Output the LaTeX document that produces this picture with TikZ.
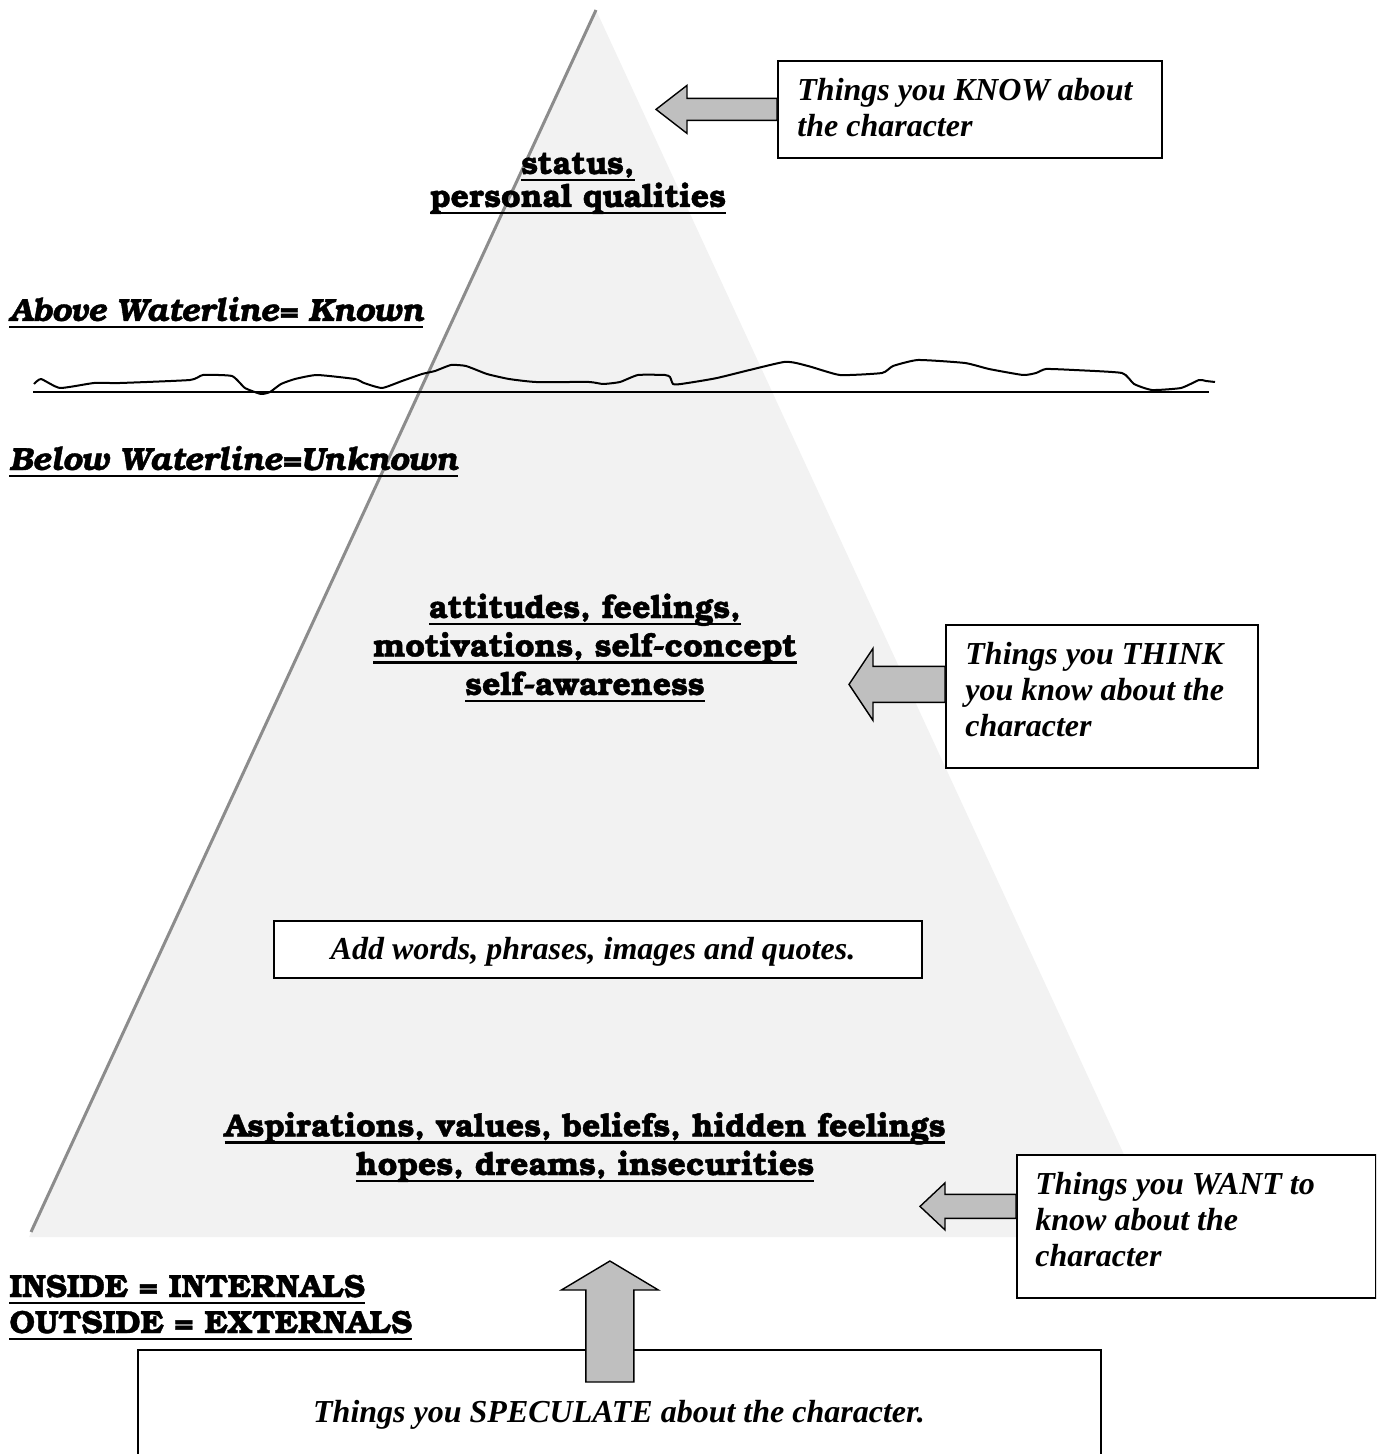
\documentclass[tikz,border=0pt]{standalone}
\usepackage{fontspec}
\newfontfamily\bkfont{TeX Gyre Bonum}[BoldFeatures={FakeBold=1.2}, BoldItalicFeatures={FakeBold=1.2}]
\newfontfamily\tmfont{Liberation Serif}
\usetikzlibrary{calc}
\newlength\myulw
\newcommand\myul[1]{\settowidth\myulw{#1}\rlap{\rule[-3.5pt]{\myulw}{1.2pt}}#1}
\begin{document}
\begin{tikzpicture}[x=0.5pt,y=-0.5pt,
  lbl/.style={inner sep=0pt, align=center, anchor=base, font=\bkfont\bfseries\fontsize{16pt}{19.25pt}\selectfont},
  sidelbl/.style={inner sep=0pt, align=left, anchor=base west, font=\bkfont\bfseries\fontsize{16pt}{18pt}\selectfont},
  boxtxt/.style={inner sep=0pt, align=left, anchor=base west, font=\tmfont\bfseries\itshape\fontsize{16pt}{18pt}\selectfont},
  tbox/.style={draw=black, fill=white, line width=0.9pt, anchor=north west, inner sep=0pt},
  barrow/.style={draw=black, fill=black!25, line width=0.7pt, line join=miter},
]
\useasboundingbox (0,0) rectangle (1376,1454);
\clip (0,0) rectangle (1376,1454);

% iceberg (pyramid)
\coordinate (apex) at (596,10);
\coordinate (baseL) at (29,1237);
\coordinate (baseR) at (1162,1237);
\coordinate (edgeL) at (31,1232);
\fill[black!5] (apex) -- (baseL) -- (baseR) -- cycle;
\draw[black!45, line width=1.5pt] (apex) -- (edgeL);

% waterline
\coordinate (wlA) at (33,392);
\coordinate (wlB) at (1209,392);
\draw[line width=1pt] (wlA) -- (wlB);
\draw[line width=1pt, line join=round] plot[smooth, tension=0.3] coordinates {
 (34,384) (41,379) (60,388) (94,383) (120,383) (190,380) (203,375) (232,376)
 (245,388) (261,394) (270,392) (281,384) (295,379) (317,375) (355,379) (364,383)
 (382,388) (402,381) (422,374) (435,371) (451,365) (466,366) (487,374) (509,379)
 (536,382) (589,382) (603,384) (620,382) (638,375) (665,375) (670,377) (673,384)
 (681,384) (717,378) (784,362) (808,366) (840,375) (882,373) (893,366) (918,360)
 (965,363) (989,369) (1023,375) (1036,373) (1046,369) (1074,370) (1122,373)
 (1134,384) (1152,390) (1181,388) (1199,380) (1206,381) (1215,382)};

% labels inside the iceberg (anchor base = last line)
\node[lbl, font=\bkfont\bfseries\fontsize{16pt}{16.5pt}\selectfont] (known) at (578,207) {\myul{status,}\\\myul{personal qualities}};
\node[lbl] (think) at (585,695) {\myul{attitudes, feelings,}\\\myul{motivations, self-concept}\\\myul{self-awareness}};
\node[lbl] (want) at (585,1175) {\myul{Aspirations, values, beliefs, hidden feelings}\\\myul{hopes, dreams, insecurities}};

% side labels
\node[sidelbl, font=\bkfont\bfseries\itshape\fontsize{16pt}{18pt}\selectfont] (above) at (9,321) {\myul{Above Waterline= Known}};
\node[sidelbl, font=\bkfont\bfseries\itshape\fontsize{16pt}{18pt}\selectfont] (below) at (9,470) {\myul{Below Waterline=Unknown}};
\node[sidelbl] (inout) at (9,1333) {\myul{INSIDE = INTERNALS}\\\myul{OUTSIDE = EXTERNALS}};

% boxes
\node[tbox, minimum width=192pt, minimum height=48.5pt] (knowbox) at (777,60) {};
\node[boxtxt] (knowtxt) at (797,137) {Things you KNOW about\\the character};

\node[tbox, minimum width=156pt, minimum height=71.5pt] (thinkbox) at (945,624) {};
\node[boxtxt] (thinktxt) at (965,736) {Things you THINK\\you know about the\\character};

\node[tbox, minimum width=179.5pt, minimum height=71.5pt] (wantbox) at (1016,1154) {};
\node[boxtxt] (wanttxt) at (1035,1266) {Things you WANT to\\know about the\\character};

\node[tbox, minimum width=324pt, minimum height=28.5pt] (addbox) at (273,920) {};
\node[boxtxt, anchor=base] (addtxt) at (593,959) {Add words, phrases, images and quotes.};

\node[tbox, minimum width=481.5pt, minimum height=75pt] (specbox) at (137,1349) {};
\node[boxtxt, anchor=base] (spectxt) at (619,1422) {Things you SPECULATE about the character.};

% block arrows
\draw[barrow] ($(knowbox.west)+(0,-11)$) -- ++(-90,0) -- ++(0,-13) -- ++(-31,24) -- ++(31,24) -- ++(0,-13) -- ++(90,0) -- cycle;
\draw[barrow] ($(thinkbox.west)+(0,-30)$) -- ++(-72,0) -- ++(0,-18) -- ++(-24,36) -- ++(24,36) -- ++(0,-18) -- ++(72,0) -- cycle;
\draw[barrow] ($(wantbox.west)+(0,-32)$) -- ++(-71,0) -- ++(0,-11.5) -- ++(-25,23.5) -- ++(25,23.5) -- ++(0,-11.5) -- ++(71,0) -- cycle;
\draw[barrow] ($(specbox.north)+(-33.5,33)$) -- ++(0,-92) -- ++(-24.5,0) -- ++(48.5,-29) -- ++(48.5,29) -- ++(-24.5,0) -- ++(0,92) -- cycle;
\end{tikzpicture}
\end{document}
